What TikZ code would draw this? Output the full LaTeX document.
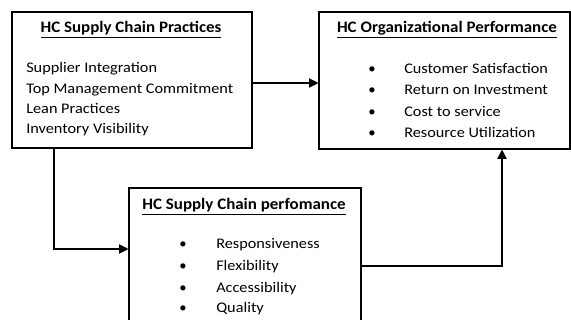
\documentclass[tikz,border=0pt]{standalone}
\usepackage{fontspec}
\setmainfont{Carlito}
\newfontfamily\widefont[FakeStretch=1.11]{Carlito}
\newfontfamily\titlefont[FakeStretch=1.06]{Carlito}
\usetikzlibrary{arrows.meta}
\begin{document}
\begin{tikzpicture}[x=0.75pt,y=-0.75pt,
  box/.style={draw,line width=0.8pt,rectangle,inner sep=0pt},
  ttl/.style={anchor=base,font=\titlefont\fontsize{12}{14}\selectfont\bfseries,inner sep=0pt},
  itm/.style={anchor=base west,font=\widefont\fontsize{11}{13}\selectfont,inner sep=0pt},
  bul/.style={anchor=base,font=\fontsize{11}{13}\selectfont,inner sep=0pt},
  arr/.style={line width=0.8pt,-{Triangle[length=7pt,width=7pt]}}]
\clip (0,0) rectangle (571,320);
\fill[white] (0,0) rectangle (571,320);
% boxes
\node[box,minimum width=180pt,minimum height=102pt] (b1) at (132,80) {};
\node[box,minimum width=188.25pt,minimum height=102.75pt] (b2) at (444.5,80.5) {};
\node[box,minimum width=174pt,minimum height=108pt] (b3) at (245,260) {};
% box 1 text
\node[ttl] (t1) at (131,33) {\underline{HC Supply Chain Practices}};
\node[itm] (a1) at (26,73) {Supplier Integration};
\node[itm] (a2) at (26,94) {Top Management Commitment};
\node[itm] (a3) at (26,114) {Lean Practices};
\node[itm] (a4) at (26,134) {Inventory Visibility};
% box 2 text
\node[ttl] (t2) at (447,33) {\underline{HC Organizational Performance}};
\node[bul] (p1) at (372,74) {\textbullet};
\node[bul] (p2) at (372,95) {\textbullet};
\node[bul] (p3) at (372,117) {\textbullet};
\node[bul] (p4) at (372,138) {\textbullet};
\node[itm] (c1) at (404,74) {Customer Satisfaction};
\node[itm] (c2) at (404,95) {Return on Investment};
\node[itm] (c3) at (404,117) {Cost to service};
\node[itm] (c4) at (404,138) {Resource Utilization};
% box 3 text
\node[ttl] (t3) at (244,210) {\underline{HC Supply Chain perfomance}};
\node[bul] (q1) at (183,249) {\textbullet};
\node[bul] (q2) at (183,271) {\textbullet};
\node[bul] (q3) at (183,292) {\textbullet};
\node[bul] (q4) at (183,312) {\textbullet};
\node[itm] (d1) at (216,249) {Responsiveness};
\node[itm] (d2) at (216,271) {Flexibility};
\node[itm] (d3) at (216,292) {Accessibility};
\node[itm] (d4) at (216,312) {Quality};
% connectors
\draw[arr] (b1.east |- 0,83) -- (b2.west |- 0,83);
\draw[arr] (b1.south -| 54,0) |- (b3.west |- 0,249);
\draw[arr] (b3.east |- 0,266) -| (b2.south -| 502,0);
\end{tikzpicture}
\end{document}
